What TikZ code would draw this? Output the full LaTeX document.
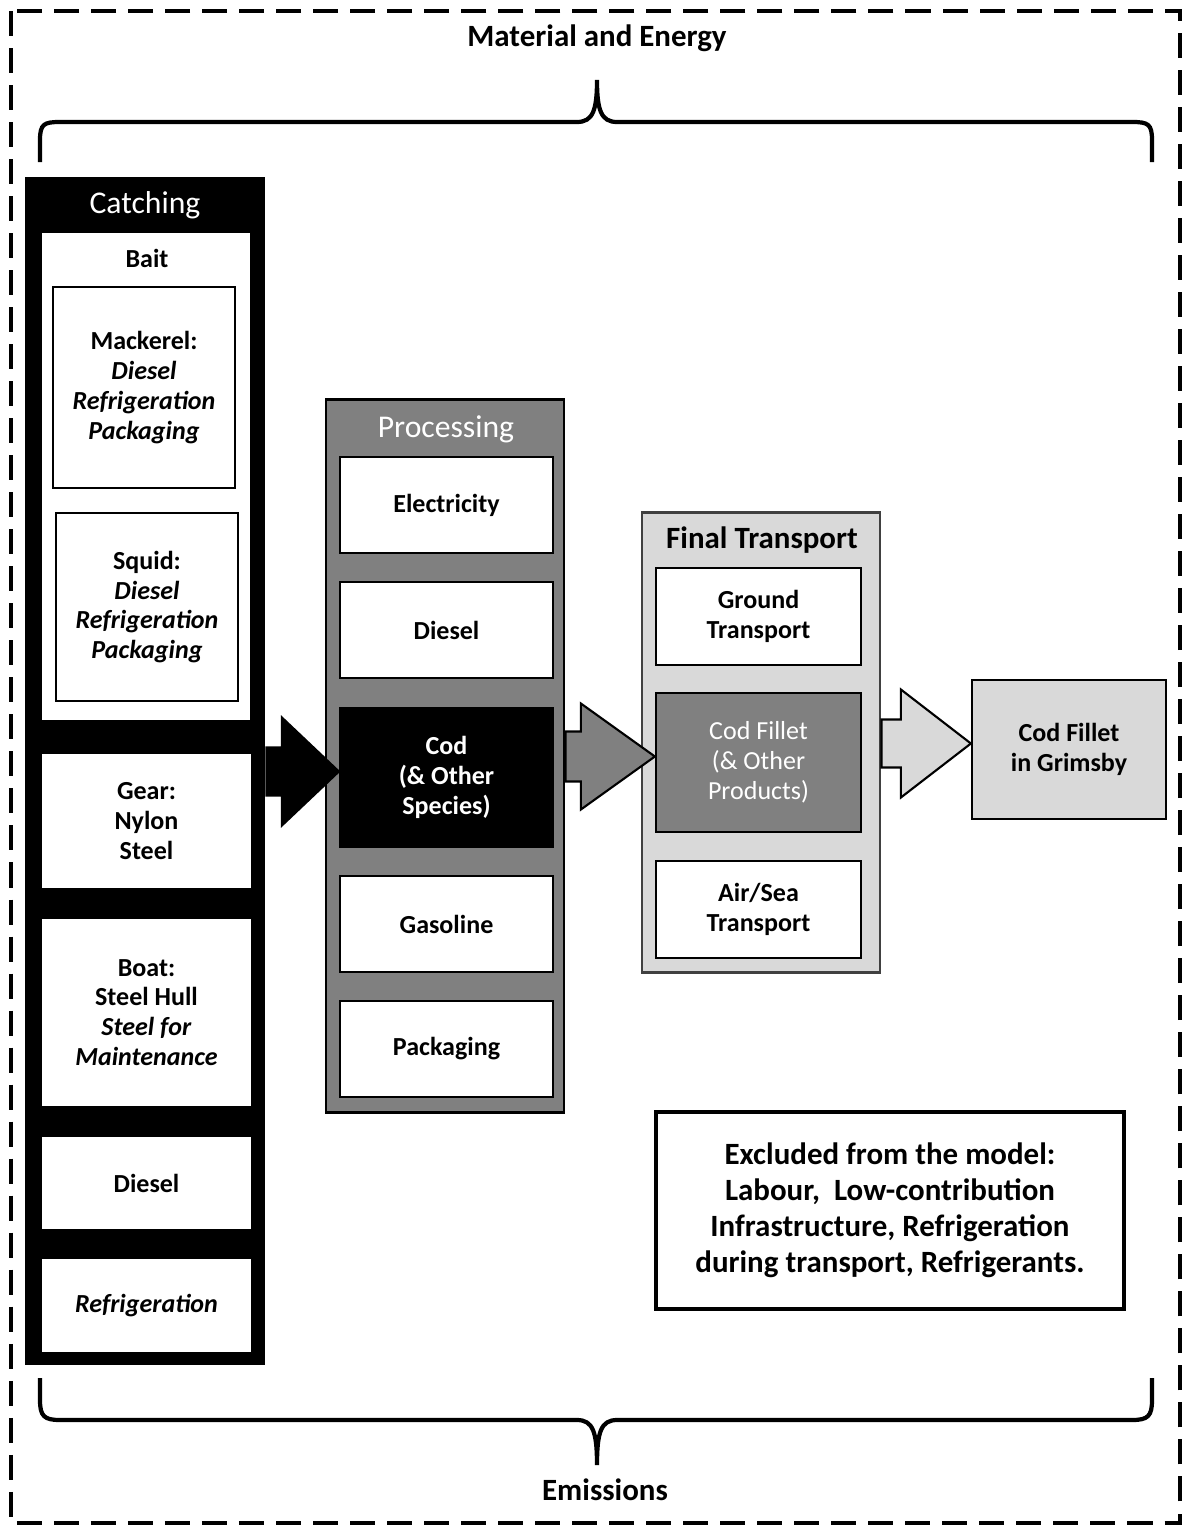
\documentclass[tikz,border=0pt]{standalone}
\usepackage{fontspec}
\setmainfont{Carlito}
\usetikzlibrary{calc}

\definecolor{procgrey}{HTML}{808080}
\definecolor{lightgrey}{HTML}{D9D9D9}

\tikzset{
  item/.style={draw=black, line width=0.6pt, fill=white, align=center, inner sep=0pt,
    font=\bfseries\fontsize{7.4}{8.5}\selectfont},
  lbl/.style={align=center, font=\bfseries\fontsize{7.4}{8.5}\selectfont},
  title/.style={align=center, font=\fontsize{9}{10.5}\selectfont},
  bigtext/.style={align=center, font=\bfseries\fontsize{8.8}{10.2}\selectfont},
  group/.style={line width=0.8pt, inner sep=0pt},
  block/.style={line width=0.6pt, draw=black},
}

\begin{document}
\begin{tikzpicture}[x=0.01cm, y=-0.01cm]
  \useasboundingbox (0,0) rectangle (1184,1530);
  % frame
  \draw[line width=1.2pt, dash pattern=on 0.25cm off 0.12cm] (11,11) rectangle (1180,1523);
  % braces
  \draw[line width=1.2pt] (40,162) -- (40,140) .. controls (40,124) and (44,122) .. (60,122)
    -- (577,122) .. controls (593,122) and (597,110) .. (597,80)
    .. controls (597,110) and (601,122) .. (617,122) -- (1132,122)
    .. controls (1148,122) and (1152,124) .. (1152,140) -- (1152,162);
  \draw[line width=1.2pt] (40,1378) -- (40,1400) .. controls (40,1416) and (44,1420) .. (60,1420)
    -- (577,1420) .. controls (593,1420) and (597,1432) .. (597,1465)
    .. controls (597,1432) and (601,1420) .. (617,1420) -- (1132,1420)
    .. controls (1148,1420) and (1152,1416) .. (1152,1400) -- (1152,1378);
  \node[bigtext] (inputs) at (597,38) {Material and Energy};
  \node[bigtext] (outputs) at (605,1490) {Emissions};

  % catching
  \node[group, fill=black, minimum width=2.40cm, minimum height=11.88cm] (catch) at (145,771) {};
  \node[title, text=white] (catchlbl) at (145,205) {Catching};
  \node[item, draw=none, minimum width=2.08cm, minimum height=4.87cm] (bait) at (146,476.5) {};
  \node[lbl] (baitlbl) at (147,258) {Bait};
  \node[item, minimum width=1.82cm, minimum height=2.01cm] (mackerel) at (144,387.5)
    {Mackerel:\\\textit{Diesel}\\\textit{Refrigeration}\\\textit{Packaging}};
  \node[item, minimum width=1.82cm, minimum height=1.88cm] (squid) at (147,607)
    {Squid:\\\textit{Diesel}\\\textit{Refrigeration}\\\textit{Packaging}};
  \node[item, draw=none, minimum width=2.09cm, minimum height=1.34cm] (gear) at (146.5,821)
    {Gear:\\Nylon\\Steel};
  \node[item, draw=none, minimum width=2.09cm, minimum height=1.87cm] (boat) at (146.5,1012.5)
    {Boat:\\Steel Hull\\\textit{Steel for}\\\textit{Maintenance}};
  \node[item, draw=none, minimum width=2.09cm, minimum height=0.92cm] (cdiesel) at (146.5,1183) {Diesel};
  \node[item, draw=none, minimum width=2.09cm, minimum height=0.93cm] (crefrig) at (146.5,1305.5)
    {\textit{Refrigeration}};

  % processing
  \node[group, draw=black, fill=procgrey, minimum width=2.38cm, minimum height=7.12cm] (proc) at (445,756) {};
  \node[title, text=white] (proclbl) at (446,429) {Processing};
  \node[item, minimum width=2.13cm, minimum height=0.96cm] (elec) at (446.5,505) {Electricity};
  \node[item, minimum width=2.13cm, minimum height=0.96cm] (pdiesel) at (446.5,630) {Diesel};
  \node[item, fill=black, text=white, minimum width=2.13cm, minimum height=1.39cm] (cod) at (446.5,777.5)
    {Cod\\(\& Other\\Species)};
  \node[item, minimum width=2.13cm, minimum height=0.96cm] (gasoline) at (446.5,924) {Gasoline};
  \node[item, minimum width=2.13cm, minimum height=0.96cm] (pack) at (446.5,1049) {Packaging};

  % final transport
  \node[group, draw=black!75, fill=lightgrey, minimum width=2.38cm, minimum height=4.59cm] (trans) at (761,742.5) {};
  \node[bigtext] (translbl) at (762,540) {Final Transport};
  \node[item, minimum width=2.05cm, minimum height=0.97cm] (ground) at (758.5,616.5) {Ground\\Transport};
  \node[item, fill=procgrey, text=white, font=\fontsize{7.4}{8.5}\selectfont,
    minimum width=2.05cm, minimum height=1.39cm] (fillet) at (758.5,762.5) {Cod Fillet\\(\& Other\\Products)};
  \node[item, minimum width=2.05cm, minimum height=0.97cm] (airsea) at (758.5,909.5) {Air/Sea\\Transport};

  \node[item, fill=lightgrey, minimum width=1.94cm, minimum height=1.39cm] (grimsby) at (1069,749.5)
    {Cod Fillet\\in Grimsby};

  \node[item, bigtext, line width=1.3pt, minimum width=4.68cm, minimum height=1.97cm] (excl) at (890,1210.5)
    {Excluded from the model:\\Labour,\ \ Low-contribution\\Infrastructure, Refrigeration\\during transport, Refrigerants.};

  % block arrows
  \coordinate (tipA) at ($(cod.west)+(0,-6)$);
  \coordinate (tipB) at ($(fillet.west)+(0,-6)$);
  \coordinate (tipC) at ($(grimsby.west)+(0,-6)$);
  \draw[block, fill=black] ($(catch.east |- tipA)+(0,-24)$) -- ($(tipA)+(-57,-24)$) -- ($(tipA)+(-57,-54)$)
    -- (tipA) -- ($(tipA)+(-57,54)$) -- ($(tipA)+(-57,24)$) -- ($(catch.east |- tipA)+(0,24)$) -- cycle;
  \draw[block, fill=procgrey] ($(proc.east |- tipB)+(0,-25)$) -- ($(tipB)+(-74,-25)$) -- ($(tipB)+(-74,-53)$)
    -- (tipB) -- ($(tipB)+(-74,53)$) -- ($(tipB)+(-74,25)$) -- ($(proc.east |- tipB)+(0,25)$) -- cycle;
  \draw[block, fill=lightgrey] ($(trans.east |- tipC)+(0,-24)$) -- ($(tipC)+(-70,-24)$) -- ($(tipC)+(-70,-54)$)
    -- (tipC) -- ($(tipC)+(-70,54)$) -- ($(tipC)+(-70,24)$) -- ($(trans.east |- tipC)+(0,24)$) -- cycle;
\end{tikzpicture}
\end{document}
